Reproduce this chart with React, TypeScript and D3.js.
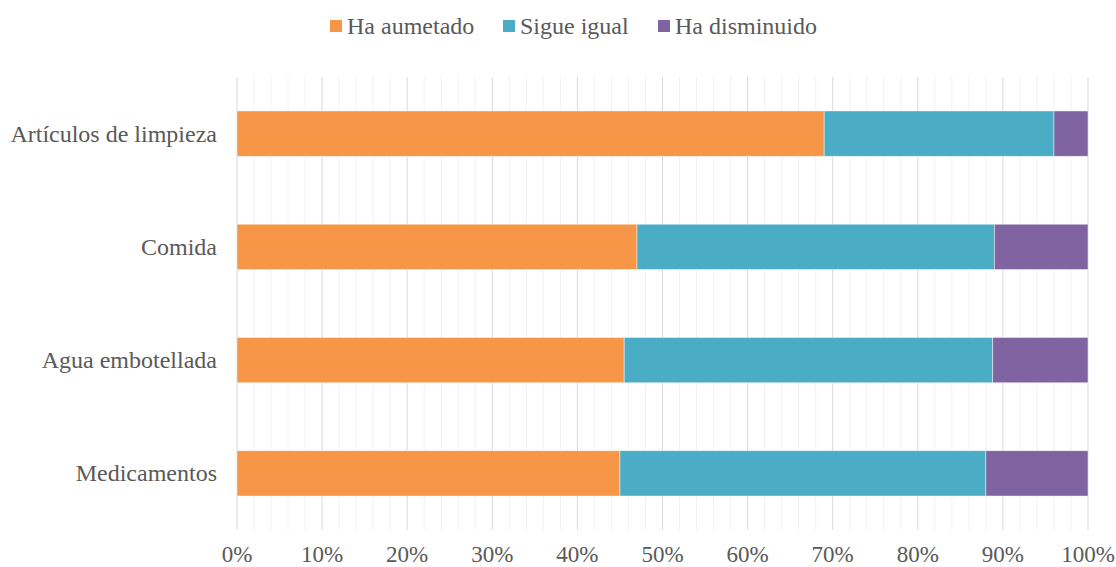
import * as d3 from 'd3';
import React from 'react';

const categories = ['Artículos de limpieza', 'Comida', 'Agua embotellada', 'Medicamentos'];
const seriesNames = ['Ha aumetado', 'Sigue igual', 'Ha disminuido'];
const aumentado = [69, 47, 45.5, 45];
const igual = [27, 42, 43.3, 43];
const disminuido = [4, 11, 11.2, 12];
const colors = ['#F79646', '#4BACC6', '#8064A2'];
const ticks = [0, 10, 20, 30, 40, 50, 60, 70, 80, 90, 100];

const W = 1116;
const H = 567;
const left = 237;
const right = 1088;
const top = 77;
const bottom = 530;
const font = '"Liberation Serif", "Times New Roman", serif';
const textColor = '#595959';

const App = () => {
  const x = d3.scaleLinear().domain([0, 100]).range([left, right]);
  const y = d3.scaleBand().domain(categories).range([top, bottom]).paddingInner(0.6).paddingOuter(0.3);

  const rows = categories.map((c, i) => ({ cat: c, a: aumentado[i], b: igual[i], c: disminuido[i] }));
  const stack = d3.stack<any>().keys(['a', 'b', 'c'])(rows);

  const minor = d3.range(0, 101, 2).filter((v) => v % 10 !== 0);

  const legendX = [330, 503, 658];

  return (
    <svg width={W} height={H} style={{ position: 'absolute', left: 0, top: 0 }}>
      <rect width={W} height={H} fill="#fff" />
      {minor.map((v) => (
        <line key={'m' + v} x1={x(v)} x2={x(v)} y1={top} y2={bottom} stroke="#F2F2F2" strokeWidth={1} />
      ))}
      {ticks.map((v) => (
        <line key={'t' + v} x1={x(v)} x2={x(v)} y1={top} y2={bottom} stroke="#D9D9D9" strokeWidth={1} />
      ))}
      {stack.map((s, si) =>
        s.map((d, i) => (
          <rect
            key={si + '-' + i}
            x={x(d[0])}
            width={x(d[1]) - x(d[0])}
            y={y(categories[i])}
            height={y.bandwidth()}
            fill={colors[si]}
            stroke="#fff"
            strokeOpacity={0.6}
            strokeWidth={0.75}
          />
        ))
      )}
      {categories.map((c) => (
        <text
          key={c}
          x={left - 20}
          y={(y(c) as number) + y.bandwidth() / 2}
          textAnchor="end"
          dominantBaseline="central"
          fontFamily={font}
          fontSize={24}
          fill={textColor}
        >
          {c}
        </text>
      ))}
      {ticks.map((v) => (
        <text
          key={'l' + v}
          x={x(v)}
          y={554}
          textAnchor="middle"
          dominantBaseline="central"
          fontFamily={font}
          fontSize={23}
          fill={textColor}
        >
          {v + '%'}
        </text>
      ))}
      {seriesNames.map((n, i) => (
        <g key={n}>
          <rect x={legendX[i]} y={20} width={12} height={12} fill={colors[i]} />
          <text x={legendX[i] + 17} y={26} dominantBaseline="central" fontFamily={font} fontSize={24} fill={textColor}>
            {n}
          </text>
        </g>
      ))}
    </svg>
  );
};

export default App;
